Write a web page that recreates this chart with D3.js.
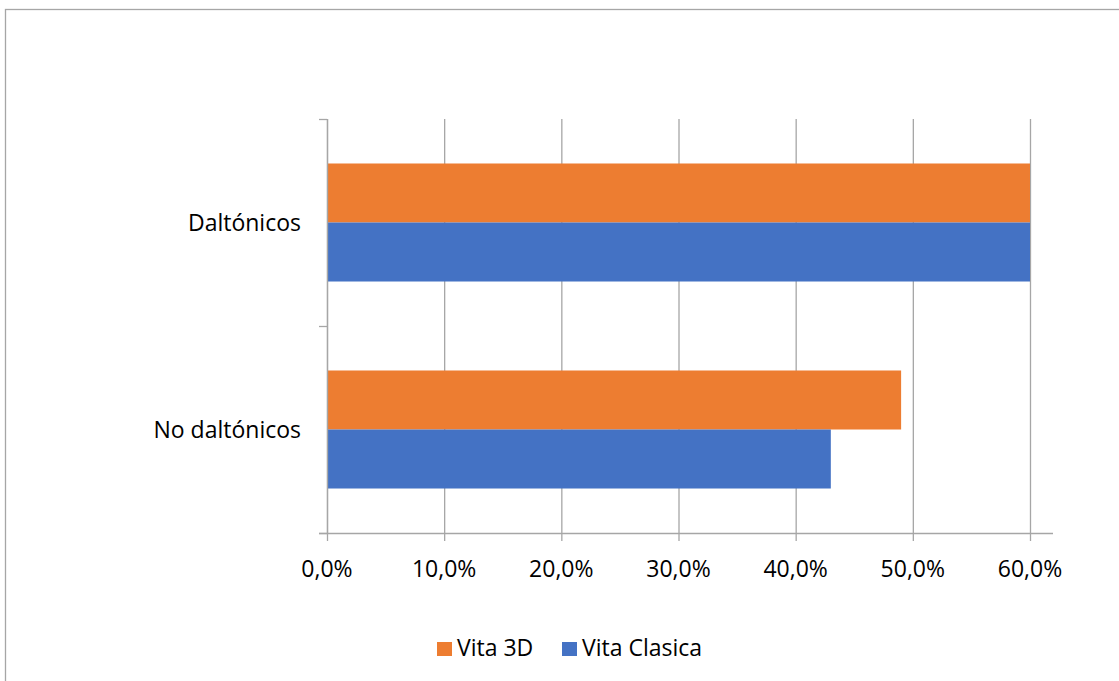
<!DOCTYPE html>
<html>
<head>
<meta charset="utf-8">
<script src="https://cdn.jsdelivr.net/npm/d3@7"></script>
<style>
  html, body { margin: 0; padding: 0; background: #ffffff; }
  svg { display: block; }
  text { font-family: "Open Sans", "Noto Sans", sans-serif; fill: #000000; }
</style>
</head>
<body>
<svg id="chart" width="1119" height="681"></svg>
<script>
// Categories (top to bottom) and series
const categories = ["Daltónicos", "No daltónicos"];
const seriesNames = ["Vita 3D", "Vita Clasica"];
const vita3D = [0.60, 0.49];
const vitaClasica = [0.60, 0.43];
const xTicks = [0, 0.1, 0.2, 0.3, 0.4, 0.5, 0.6];

const seriesValues = { "Vita 3D": vita3D, "Vita Clasica": vitaClasica };
const colors = { "Vita 3D": "#ED7D31", "Vita Clasica": "#4472C4" };

const svg = d3.select("#chart");
const W = 1119, H = 681;

// Outer chart frame
svg.append("rect")
  .attr("x", 5.5).attr("y", 9.5)
  .attr("width", W + 20).attr("height", H + 20)
  .attr("fill", "#ffffff")
  .attr("stroke", "#A6A6A6").attr("stroke-width", 1.3);

const plot = { left: 327, right: 1030, top: 119, bottom: 533 };

const x = d3.scaleLinear().domain([0, 0.6]).range([plot.left, plot.right]);
const y = d3.scaleBand().domain(categories).range([plot.top, plot.bottom]).padding(0);
const yInner = d3.scaleBand().domain(seriesNames)
  .range([0, y.bandwidth()]).paddingInner(0).paddingOuter(0.754);

const es = d3.formatLocale({ decimal: ",", thousands: ".", grouping: [3], currency: ["", "€"] });
const pct = es.format(".1%");

const gridColor = "#A6A6A6";

// Vertical gridlines
svg.append("g").selectAll("line").data(xTicks).join("line")
  .attr("x1", d => x(d) + 0.5).attr("x2", d => x(d) + 0.5)
  .attr("y1", plot.top).attr("y2", plot.bottom)
  .attr("stroke", gridColor).attr("stroke-width", 1.3);

// Bars
const rows = [];
categories.forEach((c, i) => {
  seriesNames.forEach(s => rows.push({ cat: c, series: s, value: seriesValues[s][i] }));
});
svg.append("g").selectAll("rect").data(rows).join("rect")
  .attr("x", x(0))
  .attr("y", d => y(d.cat) + yInner(d.series))
  .attr("width", d => x(d.value) - x(0))
  .attr("height", yInner.bandwidth())
  .attr("fill", d => colors[d.series]);

// Horizontal (value) axis line and tick marks
const axisG = svg.append("g");
axisG.append("line")
  .attr("x1", x(0) - 8).attr("x2", x(0.6) + 23)
  .attr("y1", plot.bottom + 0.5).attr("y2", plot.bottom + 0.5)
  .attr("stroke", gridColor).attr("stroke-width", 1.3);
axisG.selectAll("line.tick").data(xTicks).join("line")
  .attr("class", "tick")
  .attr("x1", d => x(d) + 0.5).attr("x2", d => x(d) + 0.5)
  .attr("y1", plot.bottom).attr("y2", plot.bottom + 8)
  .attr("stroke", gridColor).attr("stroke-width", 1.3);
axisG.selectAll("text").data(xTicks).join("text")
  .attr("x", d => x(d))
  .attr("y", 577)
  .attr("text-anchor", "middle")
  .attr("font-size", 23)
  .text(d => pct(d));

// Category axis line and tick marks at band boundaries
const catG = svg.append("g");
catG.append("line")
  .attr("x1", plot.left + 0.5).attr("x2", plot.left + 0.5)
  .attr("y1", plot.top).attr("y2", plot.bottom)
  .attr("stroke", gridColor).attr("stroke-width", 1.3);
const bounds = categories.map(c => y(c)).concat([plot.bottom]);
catG.selectAll("line.tick").data(bounds).join("line")
  .attr("class", "tick")
  .attr("x1", plot.left - 8).attr("x2", plot.left)
  .attr("y1", d => d + 0.5).attr("y2", d => d + 0.5)
  .attr("stroke", gridColor).attr("stroke-width", 1.3);
catG.selectAll("text").data(categories).join("text")
  .attr("x", 301)
  .attr("y", d => y(d) + y.bandwidth() / 2 + 8)
  .attr("text-anchor", "end")
  .attr("font-size", 23)
  .text(d => d);

// Legend
const legendItems = [
  { name: "Vita 3D", x: 437 },
  { name: "Vita Clasica", x: 562 }
];
const lg = svg.append("g").selectAll("g").data(legendItems).join("g")
  .attr("transform", d => `translate(${d.x},642)`);
lg.append("rect").attr("width", 15).attr("height", 14)
  .attr("fill", d => colors[d.name]);
lg.append("text").attr("x", 20).attr("y", 14)
  .attr("font-size", 23)
  .text(d => d.name);
</script>
</body>
</html>
